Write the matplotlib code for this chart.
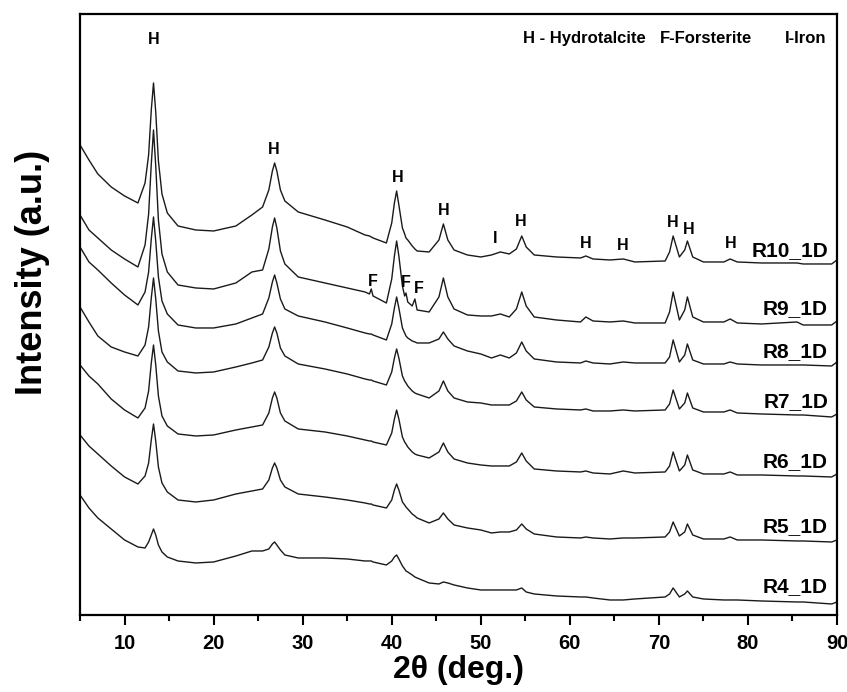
"""Stacked XRD patterns of the R4_1D ... R10_1D samples (hydrotalcite, forsterite, iron)."""

from __future__ import annotations

import matplotlib
import numpy as np

matplotlib.use("Agg")

from matplotlib import pyplot as plt
from matplotlib.ticker import MultipleLocator

two_theta = [
    5.0, 6.0, 7.0, 8.5, 10.0, 11.5, 12.3, 12.7, 13.0, 13.25,
    13.5, 13.8, 14.2, 14.8, 16.0, 18.0, 20.0, 22.5, 24.3, 25.5,
    26.2, 26.6, 26.85, 27.1, 27.5, 28.0, 29.5, 32.5, 35.0, 37.0,
    37.5, 37.7, 37.9, 39.4, 40.0, 40.3, 40.55, 40.8,
    41.2, 41.45, 41.6, 41.8, 42.3, 42.6, 42.85, 44.2,
    45.3, 45.8, 46.3, 47.0, 48.5, 50.0, 51.2, 52.2, 53.2, 54.0,
    54.6, 55.1, 56.0, 58.5, 61.2, 61.8, 62.6, 64.5, 66.0, 67.3,
    70.7, 71.2, 71.6, 72.3, 72.9, 73.2, 73.8, 75.0, 77.3, 78.0,
    78.8, 81.5, 85.5, 86.2, 89.4, 90.0,
]

# stacked intensities (a.u., offsets included)
r10_1d = [
    470, 455, 441, 428, 419, 412, 432, 460, 505, 532,
    503, 454, 421, 402, 389, 385, 384, 389, 400, 408,
    425, 444, 452, 444, 425, 414, 403, 395, 388, 380,
    379, 378, 377, 372, 392, 412, 424, 410,
    387, 381, 377, 375, 369, 366, 364, 363,
    375, 391, 375, 365, 360, 358, 360, 363, 361, 366,
    379, 368, 360, 358, 357, 359, 356, 355, 356, 353,
    354, 363, 379, 358, 365, 374, 358, 353, 353, 356,
    353, 352, 352, 351, 351, 355,
]
r9_1d = [
    400, 385, 377, 365, 356, 348, 370, 401, 451, 485,
    449, 395, 361, 343, 330, 327, 326, 332, 343, 345,
    366, 388, 397, 387, 364, 351, 338, 332, 327, 323,
    321, 326, 319, 312, 336, 359, 374, 359,
    329, 319, 322, 313, 309, 316, 305, 303,
    318, 337, 318, 306, 300, 299, 299, 301, 298, 306,
    323, 309, 298, 295, 293, 298, 294, 293, 294, 292,
    292, 303, 323, 295, 305, 318, 298, 293, 293, 296,
    292, 291, 293, 290, 290, 294,
]
r8_1d = [
    368, 353, 345, 332, 320, 310, 323, 343, 376, 398,
    374, 338, 314, 301, 290, 287, 287, 291, 297, 301,
    317, 333, 340, 332, 316, 306, 299, 293, 287, 282,
    281, 281, 280, 275, 291, 307, 318, 307,
    287, 282, 279, 277, 274, 273, 272, 272,
    276, 283, 276, 269, 264, 261, 257, 260, 257, 262,
    273, 264, 256, 253, 252, 254, 252, 251, 253, 252,
    252, 258, 275, 253, 260, 271, 255, 251, 251, 253,
    251, 250, 250, 250, 249, 253,
]
r7_1d = [
    308, 293, 279, 268, 263, 259, 270, 288, 317, 337,
    316, 284, 263, 253, 244, 242, 243, 248, 252, 255,
    268, 282, 288, 282, 267, 259, 251, 246, 241, 236,
    235, 235, 234, 230, 243, 257, 266, 257,
    239, 234, 232, 229, 224, 222, 221, 217,
    224, 234, 224, 217, 213, 212, 210, 210, 210, 214,
    223, 215, 208, 206, 205, 206, 204, 204, 205, 204,
    205, 211, 225, 206, 212, 222, 207, 203, 203, 205,
    202, 201, 200, 200, 198, 201,
]
r6_1d = [
    250, 239, 231, 216, 205, 197, 207, 224, 252, 270,
    250, 219, 199, 189, 181, 179, 180, 185, 188, 190,
    202, 217, 223, 217, 202, 194, 186, 183, 179, 175,
    174, 174, 173, 170, 182, 196, 205, 196,
    178, 173, 171, 168, 163, 161, 160, 157,
    163, 172, 163, 156, 152, 150, 149, 149, 149, 153,
    162, 154, 146, 144, 143, 144, 142, 141, 144, 142,
    143, 149, 163, 144, 150, 160, 145, 141, 141, 143,
    140, 140, 139, 139, 138, 141,
]
r5_1d = [
    180, 169, 161, 149, 138, 131, 139, 152, 175, 191,
    174, 148, 132, 123, 115, 113, 115, 121, 124, 126,
    135, 147, 152, 147, 135, 128, 121, 118, 115, 112,
    111, 111, 110, 107, 115, 125, 131, 125,
    113, 110, 108, 106, 101, 99, 97, 92,
    96, 102, 96, 90, 87, 85, 82, 83, 83, 85,
    91, 86, 81, 78, 77, 78, 77, 76, 77, 77,
    78, 83, 93, 79, 83, 91, 80, 76, 76, 78,
    75, 75, 74, 74, 73, 75,
]
r4_1d = [
    120, 107, 97, 86, 75, 68, 67, 73, 80, 86,
    80, 70, 63, 58, 54, 52, 53, 59, 64, 64,
    66, 71, 73, 70, 65, 60, 57, 57, 56, 54,
    54, 54, 53, 50, 54, 58, 60, 56,
    49, 46, 44, 43, 40, 38, 37, 32,
    31, 33, 32, 30, 27, 25, 25, 25, 25, 25,
    27, 23, 21, 19, 18, 18, 17, 15, 15, 16,
    18, 21, 27, 18, 21, 24, 18, 16, 15, 15,
    15, 14, 13, 13, 11, 13,
]

sample_names = ["R10_1D", "R9_1D", "R8_1D", "R7_1D", "R6_1D", "R5_1D", "R4_1D"]
patterns = [r10_1d, r9_1d, r8_1d, r7_1d, r6_1d, r5_1d, r4_1d]
name_levels = [364, 306, 263, 213, 153, 88, 28]

# phase markers: letter, 2-theta, height
marker_letters = ["H", "H", "H", "H", "I", "H", "H", "H", "H", "H", "H", "F", "F", "F"]
marker_two_theta = [13.3, 26.7, 40.7, 45.8, 51.6, 54.5, 61.8, 65.9, 71.5, 73.4, 78.1, 37.9, 41.6, 43.0]
marker_levels = [575, 465, 437, 404, 376, 393, 371, 369, 392, 385, 371, 333, 332, 326]

phase_legend = ["H - Hydrotalcite", "F-Forsterite", "I-Iron"]
phase_legend_x = [54.7, 70.1, 84.2]

FONT = ["Liberation Sans", "DejaVu Sans"]


def main() -> None:
    plt.rcParams["font.family"] = FONT
    fig = plt.figure(figsize=(8.47, 6.92), dpi=100)
    ax = fig.add_axes([0.0945, 0.1113, 0.8937, 0.8685])

    x = np.asarray(two_theta)
    for values in patterns:
        ax.plot(x, values, color="#1a1a1a", linewidth=1.0)

    for name, level in zip(sample_names, name_levels):
        ax.text(89.0, level, name, ha="right", va="center", fontsize=15, fontweight="bold")

    for letter, pos, level in zip(marker_letters, marker_two_theta, marker_levels):
        ax.text(pos, level, letter, ha="center", va="center", fontsize=11.5, fontweight="bold")

    for label, pos in zip(phase_legend, phase_legend_x):
        ax.text(pos, 576, label, ha="left", va="center", fontsize=12, fontweight="bold")

    ax.set_xlim(5, 90)
    ax.set_ylim(0, 601)
    ax.xaxis.set_major_locator(MultipleLocator(10))
    ax.xaxis.set_minor_locator(MultipleLocator(5))
    ax.tick_params(axis="x", which="major", direction="out", length=7, width=1.5,
                   labelsize=14.5, pad=7)
    ax.tick_params(axis="x", which="minor", direction="out", length=4, width=1.5)
    for lbl in ax.get_xticklabels():
        lbl.set_fontweight("bold")
    ax.set_yticks([])
    for spine in ax.spines.values():
        spine.set_linewidth(1.6)

    ax.set_xlabel("2θ (deg.)", fontsize=23, fontweight="bold", labelpad=1)
    ax.set_ylabel("Intensity (a.u.)", fontsize=26, fontweight="bold")
    ax.yaxis.set_label_coords(-0.040, 0.57)

    fig.savefig("out.png", dpi=100)
    plt.close(fig)


if __name__ == "__main__":
    main()
